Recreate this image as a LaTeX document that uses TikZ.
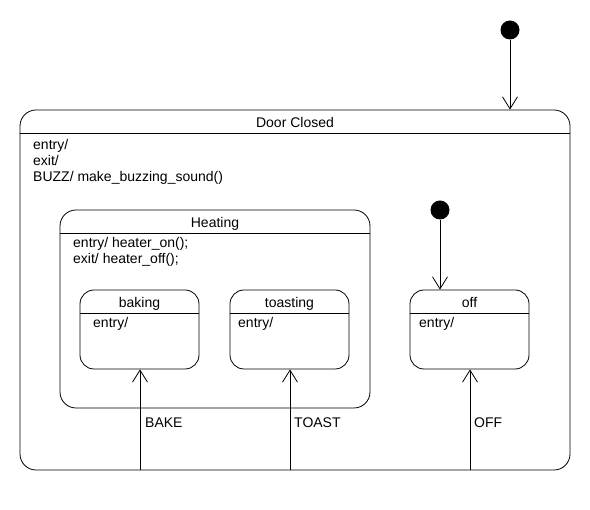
\documentclass[tikz,border=0pt]{standalone}
\usepackage{fontspec}
\setmainfont{Liberation Sans}
\usetikzlibrary{arrows.meta}
\begin{document}
\begin{tikzpicture}[x=1pt,y=-1pt,
  every node/.style={font=\fontsize{14}{16}\selectfont, inner sep=0pt},
  statebox/.style={draw, line width=0.8pt, rounded corners=14pt, rectangle},
  initdot/.style={circle, fill=black, minimum size=19pt},
  lbl/.style={anchor=base west},
  trans/.style={draw, line width=0.8pt, -{Straight Barb[length=12pt,width=15pt,line width=0.8pt]}}
]
\useasboundingbox (0,0) rectangle (590,510);

% outer composite state
\node[statebox, rounded corners=16pt, minimum width=550pt, minimum height=360pt] (door) at (295,290) {};
\draw[line width=0.8pt] (door.west |- 0,133) -- (door.east |- 0,133);
\node[anchor=base] (doort) at (295,128) {Door Closed};
\node[lbl] (doora) at (33,150) {entry/};
\node[lbl] (doorb) at (33,166) {exit/};
\node[lbl] (doorc) at (33,182) {BUZZ/ make\_buzzing\_sound()};

% heating composite state
\node[statebox, rounded corners=16pt, minimum width=310pt, minimum height=198pt] (heat) at (215,309) {};
\draw[line width=0.8pt] (heat.west |- 0,233) -- (heat.east |- 0,233);
\node[anchor=base] (heatt) at (215,228) {Heating};
\node[lbl] (heata) at (73,248) {entry/ heater\_on();};
\node[lbl] (heatb) at (73,264) {exit/ heater\_off();};

% simple states
\node[statebox, minimum width=119pt, minimum height=79pt] (baking) at (139.5,329.5) {};
\draw[line width=0.8pt] (baking.west |- 0,313) -- (baking.east |- 0,313);
\node[anchor=base] (bakingt) at (139.5,308) {baking};
\node[lbl] (bakinga) at (93,328) {entry/};

\node[statebox, minimum width=119pt, minimum height=79pt] (toast) at (289.5,329.5) {};
\draw[line width=0.8pt] (toast.west |- 0,313) -- (toast.east |- 0,313);
\node[anchor=base] (toastt) at (289.5,308) {toasting};
\node[lbl] (toasta) at (238,328) {entry/};

\node[statebox, minimum width=119pt, minimum height=79pt] (off) at (469.5,329.5) {};
\draw[line width=0.8pt] (off.west |- 0,313) -- (off.east |- 0,313);
\node[anchor=base] (offt) at (469.5,308) {off};
\node[lbl] (offa) at (419,328) {entry/};

% initial pseudostates
\node[initdot] (init1) at (510,30) {};
\node[initdot] (init2) at (440,210) {};

% transitions
\coordinate (bakeS) at (140,470);
\coordinate (toastS) at (290,470);
\coordinate (offS) at (470,470);
\draw[trans] (init1) -- (init1 |- door.north);
\draw[trans] (init2) -- (init2 |- off.north);
\draw[trans] (bakeS) -- (bakeS |- baking.south);
\draw[trans] (toastS) -- (toastS |- toast.south);
\draw[trans] (offS) -- (offS |- off.south);
\node[lbl] (bakel) at (145,428) {BAKE};
\node[lbl] (toastl) at (294,428) {TOAST};
\node[lbl] (offl) at (474,428) {OFF};
\end{tikzpicture}
\end{document}
